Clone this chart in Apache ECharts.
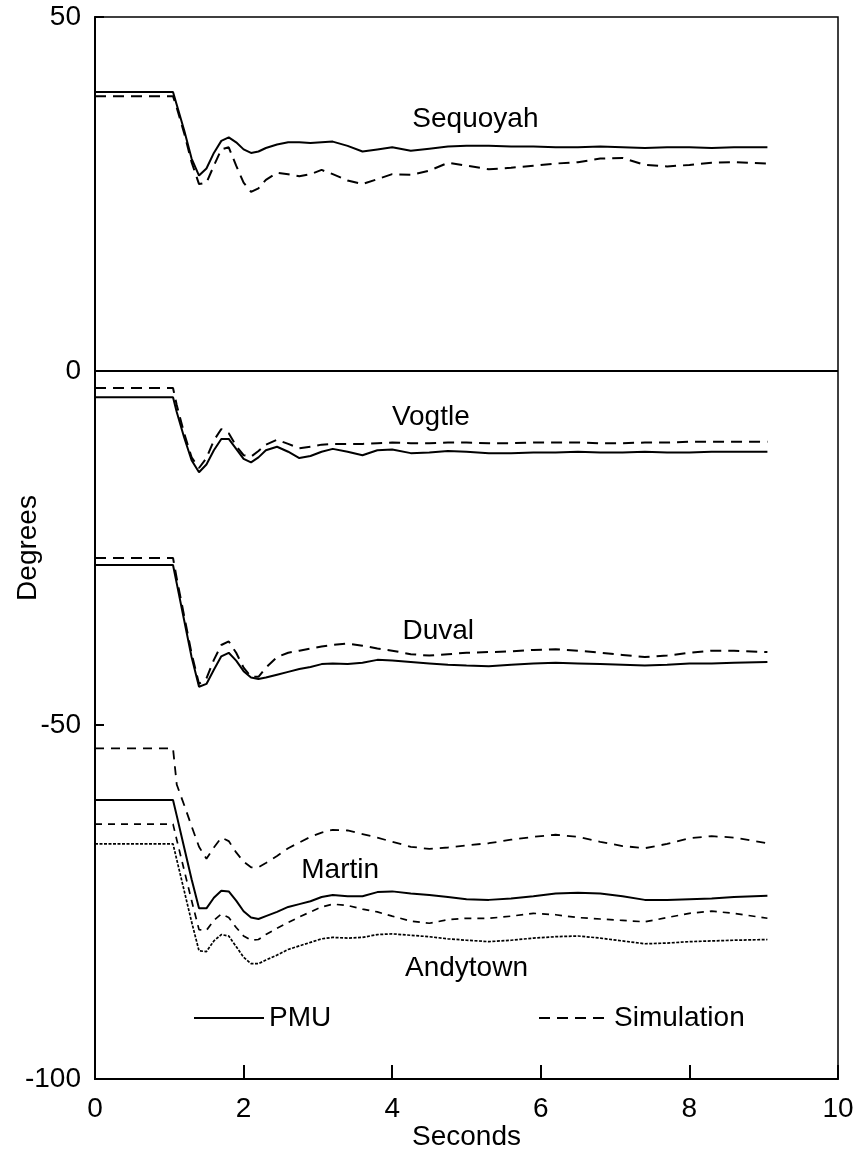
<!DOCTYPE html>
<html>
<head>
<meta charset="utf-8">
<style>
  html, body { margin: 0; padding: 0; background: #fff; }
  #chart { width: 854px; height: 1151px; }
</style>
<script src="https://cdn.jsdelivr.net/npm/echarts@6/dist/echarts.min.js"></script>
</head>
<body>
<div id="chart"></div>
<script>
// ---- Data ----
var times = [0, 1.05, 1.1, 1.2, 1.3, 1.4, 1.5, 1.6, 1.7, 1.8, 1.9, 2.0, 2.1, 2.2, 2.3, 2.45, 2.6, 2.75, 2.9, 3.05, 3.2, 3.4, 3.6, 3.8, 4.0, 4.25, 4.5, 4.75, 5.0, 5.3, 5.6, 5.9, 6.2, 6.5, 6.8, 7.1, 7.4, 7.7, 8.0, 8.3, 8.6, 9.05];

var sequoyahPMU = [39.4, 39.4, 37.6, 34.0, 30.0, 27.6, 28.6, 30.8, 32.5, 33.0, 32.3, 31.3, 30.8, 31.0, 31.5, 32.0, 32.3, 32.3, 32.2, 32.3, 32.4, 31.8, 31.0, 31.3, 31.6, 31.1, 31.4, 31.7, 31.8, 31.8, 31.7, 31.7, 31.6, 31.6, 31.7, 31.6, 31.5, 31.6, 31.6, 31.5, 31.6, 31.6];
var sequoyahSim = [38.8, 38.8, 37.2, 33.6, 29.5, 26.4, 26.6, 29.0, 31.3, 31.6, 29.0, 26.6, 25.3, 25.8, 27.0, 28.0, 27.8, 27.5, 27.8, 28.4, 27.8, 26.9, 26.4, 27.1, 27.8, 27.7, 28.3, 29.4, 29.0, 28.5, 28.7, 29.0, 29.3, 29.5, 30.0, 30.1, 29.1, 28.9, 29.1, 29.4, 29.5, 29.3];

var vogtlePMU = [-3.7, -3.7, -5.8, -9.4, -12.6, -14.3, -13.2, -11.2, -9.6, -9.6, -11.0, -12.4, -12.9, -12.2, -11.2, -10.7, -11.4, -12.3, -12.0, -11.4, -11.0, -11.4, -11.9, -11.2, -11.1, -11.6, -11.5, -11.3, -11.4, -11.6, -11.6, -11.5, -11.5, -11.4, -11.5, -11.5, -11.4, -11.5, -11.5, -11.4, -11.4, -11.4];
var vogtleSim = [-2.4, -2.4, -4.8, -8.8, -12.2, -13.7, -12.3, -9.8, -8.2, -8.8, -10.6, -11.9, -12.1, -11.3, -10.4, -9.7, -10.3, -10.9, -10.7, -10.4, -10.3, -10.3, -10.3, -10.2, -10.1, -10.2, -10.2, -10.1, -10.1, -10.2, -10.2, -10.1, -10.1, -10.1, -10.2, -10.2, -10.1, -10.1, -10.0, -10.0, -10.0, -10.0];

var duvalPMU = [-27.4, -27.4, -30.0, -35.2, -40.4, -44.6, -44.2, -42.2, -40.3, -39.8, -40.9, -42.4, -43.3, -43.5, -43.3, -42.9, -42.5, -42.1, -41.8, -41.4, -41.3, -41.4, -41.2, -40.8, -40.9, -41.1, -41.3, -41.5, -41.6, -41.7, -41.5, -41.3, -41.2, -41.3, -41.4, -41.5, -41.6, -41.5, -41.3, -41.3, -41.2, -41.1];
var duvalSim = [-26.4, -26.4, -29.3, -34.6, -39.9, -44.2, -43.4, -40.8, -38.7, -38.2, -39.8, -41.9, -43.2, -43.2, -41.9, -40.4, -39.8, -39.5, -39.2, -38.9, -38.7, -38.5, -38.8, -39.2, -39.5, -40.0, -40.2, -40.0, -39.8, -39.7, -39.6, -39.4, -39.3, -39.5, -39.8, -40.1, -40.4, -40.2, -39.8, -39.5, -39.5, -39.7];

var martinPMU = [-60.6, -60.6, -62.8, -67.3, -71.8, -75.9, -75.9, -74.4, -73.4, -73.5, -74.8, -76.3, -77.2, -77.4, -77.0, -76.4, -75.7, -75.3, -74.9, -74.3, -74.0, -74.2, -74.2, -73.6, -73.5, -73.8, -74.0, -74.3, -74.6, -74.7, -74.5, -74.2, -73.8, -73.7, -73.8, -74.2, -74.7, -74.7, -74.6, -74.5, -74.3, -74.1];
var martinSim = [-53.3, -53.3, -58.4, -61.3, -64.3, -67.2, -68.9, -67.3, -65.9, -66.4, -68.0, -69.3, -70.1, -70.1, -69.5, -68.5, -67.4, -66.6, -65.8, -65.2, -64.8, -64.9, -65.4, -65.9, -66.5, -67.2, -67.5, -67.3, -67.0, -66.7, -66.2, -65.8, -65.5, -65.8, -66.5, -67.1, -67.4, -66.8, -66.0, -65.7, -65.9, -66.7];

var andytownPMU = [-66.8, -66.8, -69.0, -73.4, -77.8, -81.9, -82.0, -80.5, -79.6, -79.8, -81.3, -82.8, -83.7, -83.7, -83.2, -82.5, -81.7, -81.2, -80.7, -80.2, -80.0, -80.1, -80.0, -79.6, -79.5, -79.7, -79.9, -80.2, -80.4, -80.6, -80.4, -80.1, -79.9, -79.8, -80.1, -80.5, -80.9, -80.8, -80.6, -80.5, -80.4, -80.3];
var andytownSim = [-64.0, -64.0, -66.2, -70.5, -74.8, -78.9, -79.0, -77.6, -76.7, -77.2, -78.6, -79.8, -80.4, -80.3, -79.6, -78.7, -77.9, -77.1, -76.4, -75.7, -75.3, -75.5, -76.0, -76.4, -77.0, -77.7, -78.0, -77.5, -77.3, -77.3, -77.0, -76.6, -76.8, -77.2, -77.4, -77.6, -77.8, -77.2, -76.6, -76.3, -76.6, -77.3];

// Station label anchors (data coordinates: seconds, degrees)
var labelNames = ['Sequoyah', 'Vogtle', 'Duval', 'Martin', 'Andytown'];
var labelT = [5.12, 4.52, 4.62, 3.3, 5.0];
var labelV = [35.6, -6.5, -36.8, -70.5, -84.3];

var xTicks = [0, 2, 4, 6, 8, 10];
var yTicks = [-100, -50, 0, 50];

// ---- Chart ----
function pairs(vals) {
  return vals.map(function (v, i) { return [times[i], v]; });
}

var FONT = '"Liberation Sans", Arial, Helvetica, sans-serif';
var solid = { type: 'solid', width: 2, color: '#000' };
var dashed = { type: [11, 7], width: 2, color: '#000' };

function lineSeries(name, vals, style) {
  return {
    name: name, type: 'line', data: pairs(vals),
    showSymbol: false, symbol: 'none', smooth: false,
    lineStyle: style, silent: true, z: 3
  };
}

var series = [
  lineSeries('Sequoyah PMU', sequoyahPMU, solid),
  lineSeries('Sequoyah Simulation', sequoyahSim, dashed),
  lineSeries('Vogtle PMU', vogtlePMU, solid),
  lineSeries('Vogtle Simulation', vogtleSim, dashed),
  lineSeries('Duval PMU', duvalPMU, solid),
  lineSeries('Duval Simulation', duvalSim, dashed),
  lineSeries('Martin PMU', martinPMU, solid),
  lineSeries('Martin Simulation', martinSim, { type: [9, 7], width: 1.8, color: '#000' }),
  lineSeries('Andytown PMU', andytownPMU, { type: [3, 1.5], width: 1.7, color: '#000' }),
  lineSeries('Andytown Simulation', andytownSim, { type: [7, 6], width: 1.7, color: '#000' }),
  {
    name: 'PMU', type: 'line', data: [], symbol: 'none',
    lineStyle: solid, itemStyle: { color: '#000' }
  },
  {
    name: 'Simulation', type: 'line', data: [], symbol: 'none',
    lineStyle: dashed, itemStyle: { color: '#000' }
  },
  {
    name: 'labels', type: 'scatter', symbolSize: 0, silent: true,
    itemStyle: { opacity: 1, color: '#000' },
    data: labelNames.map(function (n, i) { return { name: n, value: [labelT[i], labelV[i]] }; }),
    label: {
      show: true, position: 'inside', formatter: '{b}', opacity: 1,
      color: '#000', fontSize: 28, fontFamily: FONT
    },
    markLine: {
      silent: true, symbol: 'none', label: { show: false },
      lineStyle: { type: 'solid', color: '#000', width: 2, opacity: 1 },
      data: [{ yAxis: 0 }]
    }
  }
];

var legendCommon = {
  top: 999, itemWidth: 70, itemHeight: 14, selectedMode: false,
  itemStyle: { opacity: 0 },
  textStyle: { fontSize: 28, color: '#000', fontFamily: FONT }
};

var chart = echarts.init(document.getElementById('chart'), null, { renderer: 'canvas' });
chart.setOption({
  animation: false,
  backgroundColor: '#fff',
  textStyle: { fontFamily: FONT, color: '#000' },
  grid: {
    left: 95, right: 16, top: 17, bottom: 72,
    containLabel: false, outerBoundsMode: 'none',
    show: true, borderColor: '#000', borderWidth: 1.5, backgroundColor: 'transparent'
  },
  legend: [
    Object.assign({ data: ['PMU'], left: 188 }, legendCommon),
    Object.assign({ data: ['Simulation'], left: 533 }, legendCommon)
  ],
  xAxis: {
    type: 'value', min: xTicks[0], max: xTicks[xTicks.length - 1], interval: 2,
    name: 'Seconds', nameLocation: 'middle', nameGap: 44, nameMoveOverlap: false,
    nameTextStyle: { fontSize: 28, color: '#000', fontFamily: FONT },
    axisLine: { show: true, onZero: false, lineStyle: { color: '#000', width: 2 } },
    axisTick: { show: true, inside: true, length: 14, lineStyle: { color: '#000', width: 2 } },
    axisLabel: { fontSize: 28, color: '#000', margin: 16, fontFamily: FONT },
    splitLine: { show: false }
  },
  yAxis: {
    type: 'value', min: yTicks[0], max: yTicks[yTicks.length - 1], interval: 50,
    name: 'Degrees', nameLocation: 'middle', nameGap: 53, nameMoveOverlap: false,
    nameTextStyle: { fontSize: 28, color: '#000', fontFamily: FONT },
    axisLine: { show: true, onZero: false, lineStyle: { color: '#000', width: 2 } },
    axisTick: { show: true, inside: true, length: 9, lineStyle: { color: '#000', width: 2 } },
    axisLabel: { fontSize: 28, color: '#000', margin: 14, fontFamily: FONT },
    splitLine: { show: false }
  },
  series: series
});
</script>
</body>
</html>
